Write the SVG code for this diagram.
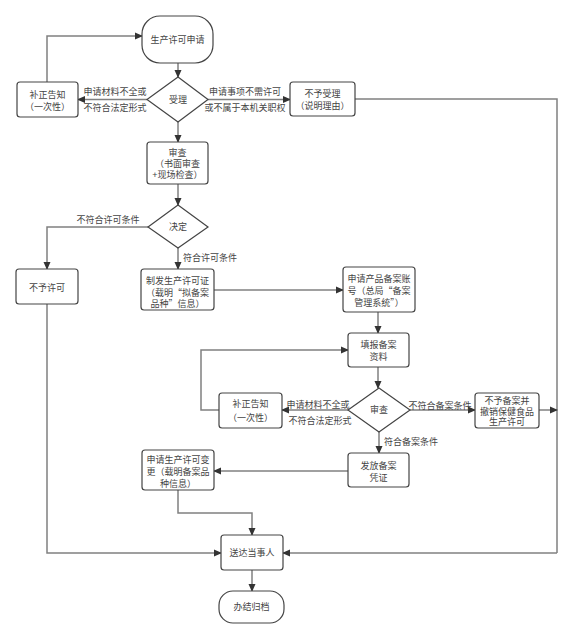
<svg xmlns="http://www.w3.org/2000/svg" width="574" height="639" viewBox="0 0 574 639">
<defs>
<marker id="ah" markerWidth="8" markerHeight="8" refX="7" refY="4" orient="auto" markerUnits="userSpaceOnUse">
<path d="M0,0.5 L8,4 L0,7.5 Z" fill="#333"/>
</marker>
<style>
.n{fill:#fff;stroke:#444;stroke-width:1.2}
.t{font-family:"Liberation Sans","Noto Sans CJK SC",sans-serif;font-size:9px;fill:#444;text-anchor:middle}
.l{font-family:"Liberation Sans","Noto Sans CJK SC",sans-serif;font-size:9px;fill:#444}
.q{font-family:"Noto Sans CJK SC",sans-serif}
.c{fill:none;stroke:#808080;stroke-width:1.5;marker-end:url(#ah)}
.p{fill:none;stroke:#808080;stroke-width:1.5}
</style>
</defs>
<rect width="574" height="639" fill="#fff"/>
<g id="connectors">
<path class="c" d="M178,63 V77"/>
<path class="c" d="M147,99.5 H78"/>
<path class="c" d="M47,82 V36 H142"/>
<path class="c" d="M208,99.5 H290"/>
<path class="p" d="M355,99 H557 V553"/>
<path class="c" d="M557,553 H283"/>
<path class="c" d="M178,122 V142"/>
<path class="c" d="M178,184 V205"/>
<path class="c" d="M148,227 H47 V269"/>
<path class="c" d="M178,248 V269"/>
<path class="c" d="M47,304 V553 H221"/>
<path class="c" d="M214,290 H343"/>
<path class="c" d="M378,312 V333"/>
<path class="c" d="M378,367 V388"/>
<path class="c" d="M348,410 H282"/>
<path class="c" d="M219,410 H201 V350 H348"/>
<path class="c" d="M410,410 H475"/>
<path class="c" d="M539,410 H557"/>
<path class="c" d="M379,432 V453"/>
<path class="c" d="M348,471 H214"/>
<path class="c" d="M178,490 V513 H252 V535"/>
<path class="c" d="M252,570 V591"/>
<text class="t" x="115" y="95">申请材料不全或</text>
<text class="t" x="115" y="111">不符合法定形式</text>
<text class="t" x="245" y="95">申请事项不需许可</text>
<text class="t" x="245" y="111">或不属于本机关职权</text>
<text class="t" x="108" y="223">不符合许可条件</text>
<text class="l" x="183" y="261">符合许可条件</text>
<text class="t" x="318" y="408">申请材料不全或</text>
<text class="t" x="320" y="424">不符合法定形式</text>
<text class="t" x="440" y="409">不符合备案条件</text>
<text class="l" x="384" y="445">符合备案条件</text>
</g>
<g id="start"><rect class="n" x="142" y="16" width="71" height="47" rx="18"/><text class="t" x="177.5" y="42.5">生产许可申请</text></g>
<g id="accept"><polygon class="n" points="178,77 208,99.5 178,122 147,99.5"/><text class="t" x="178" y="103">受理</text></g>
<g id="correct1"><rect class="n" x="17" y="82" width="61" height="35" rx="3"/><text class="t" x="47.5" y="98">补正告知</text><text class="t" x="47.5" y="110">（一次性）</text></g>
<g id="reject1"><rect class="n" x="290" y="82" width="65" height="34" rx="3"/><text class="t" x="322.5" y="97">不予受理</text><text class="t" x="322.5" y="109">（说明理由）</text></g>
<g id="review"><rect class="n" x="147" y="142" width="61" height="42" rx="3"/><text class="t" x="177.5" y="156">审查</text><text class="t" x="177.5" y="167">（书面审查</text><text class="t" x="177.5" y="178">+现场检查）</text></g>
<g id="decide"><polygon class="n" points="178,205 208,227 178,248 148,227"/><text class="t" x="178" y="230">决定</text></g>
<g id="deny"><rect class="n" x="16" y="269" width="62" height="35" rx="3"/><text class="t" x="47" y="291">不予许可</text></g>
<g id="issue"><rect class="n" x="141" y="269" width="73" height="41" rx="3"/><text class="t" x="177.5" y="284">制发生产许可证</text><text class="t" x="177.5" y="296">（载明<tspan class="q">“</tspan>拟备案</text><text class="t" x="177.5" y="307">品种<tspan class="q">”</tspan>信息）</text></g>
<g id="account"><rect class="n" x="343" y="267" width="72" height="45" rx="3"/><text class="t" x="379" y="282">申请产品备案账</text><text class="t" x="379" y="294">号（总局<tspan class="q">“</tspan>备案</text><text class="t" x="379" y="306">管理系统<tspan class="q">”</tspan>）</text></g>
<g id="fill"><rect class="n" x="348" y="333" width="61" height="34" rx="3"/><text class="t" x="378.5" y="348">填报备案</text><text class="t" x="378.5" y="360">资料</text></g>
<g id="review2"><polygon class="n" points="379,388 410,410 379,432 348,410"/><text class="t" x="379" y="413">审查</text></g>
<g id="correct2"><rect class="n" x="219" y="393" width="63" height="35" rx="3"/><text class="t" x="250.5" y="407">补正告知</text><text class="t" x="250.5" y="421">（一次性）</text></g>
<g id="reject2"><rect class="n" x="475" y="393" width="64" height="35" rx="3"/><text class="t" x="507" y="404">不予备案并</text><text class="t" x="507" y="415">撤销保健食品</text><text class="t" x="507" y="425">生产许可</text></g>
<g id="cert"><rect class="n" x="348" y="453" width="61" height="34" rx="3"/><text class="t" x="378.5" y="469">发放备案</text><text class="t" x="378.5" y="481">凭证</text></g>
<g id="change"><rect class="n" x="142" y="450" width="72" height="40" rx="3"/><text class="t" x="178" y="463">申请生产许可变</text><text class="t" x="178" y="475">更（载明备案品</text><text class="t" x="178" y="487">种信息）</text></g>
<g id="deliver"><rect class="n" x="221" y="535" width="62" height="35" rx="3"/><text class="t" x="252" y="556">送达当事人</text></g>
<g id="archive"><rect class="n" x="219" y="591" width="65" height="32" rx="14"/><text class="t" x="251.5" y="610">办结归档</text></g>
</svg>
